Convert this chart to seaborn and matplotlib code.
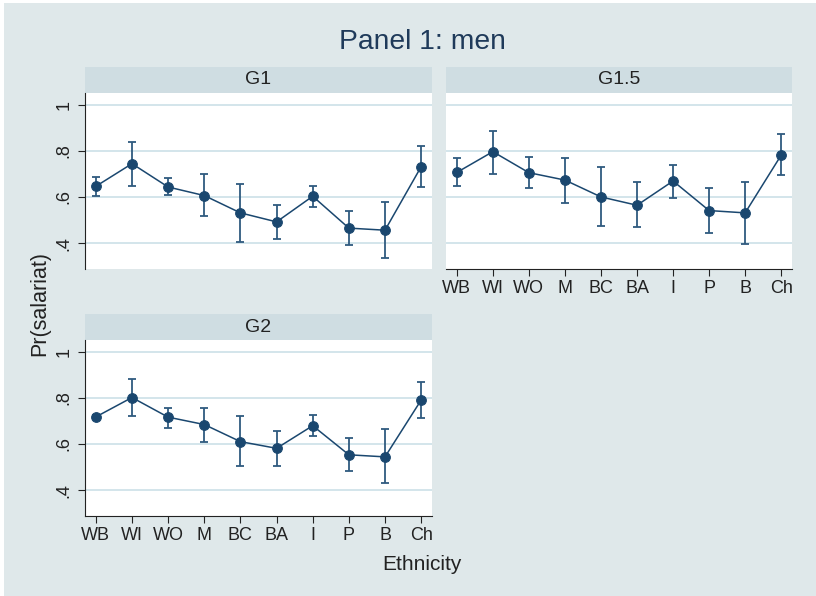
import numpy as np
import pandas as pd
import seaborn as sns
import matplotlib.pyplot as plt
from matplotlib.patches import Rectangle

# 数据：各族群的预测概率及置信区间
ethnicity = ['WB', 'WI', 'WO', 'M', 'BC', 'BA', 'I', 'P', 'B', 'Ch']

g1_p = [0.646, 0.744, 0.643, 0.606, 0.531, 0.492, 0.603, 0.465, 0.456, 0.731]
g1_lo = [0.604, 0.649, 0.607, 0.518, 0.404, 0.420, 0.558, 0.393, 0.335, 0.643]
g1_hi = [0.685, 0.839, 0.681, 0.698, 0.655, 0.565, 0.647, 0.540, 0.577, 0.819]

g15_p = [0.706, 0.796, 0.705, 0.673, 0.600, 0.564, 0.669, 0.541, 0.531, 0.781]
g15_lo = [0.646, 0.701, 0.640, 0.574, 0.473, 0.469, 0.596, 0.443, 0.396, 0.694]
g15_hi = [0.770, 0.886, 0.773, 0.768, 0.728, 0.666, 0.740, 0.639, 0.666, 0.872]

g2_p = [0.717, 0.801, 0.716, 0.684, 0.610, 0.581, 0.679, 0.553, 0.544, 0.790]
g2_lo = [0.710, 0.721, 0.671, 0.607, 0.503, 0.503, 0.636, 0.481, 0.429, 0.713]
g2_hi = [0.724, 0.879, 0.757, 0.757, 0.721, 0.656, 0.724, 0.626, 0.663, 0.867]

panels = ['G1', 'G1.5', 'G2']
y_ticks = [0.4, 0.6, 0.8, 1.0]
y_ticklabels = ['.4', '.6', '.8', '1']

bg = '#dfe8ea'
strip_bg = '#cfdde2'
grid_c = '#d3e5eb'
navy = '#1a476f'

plt.rcParams['font.family'] = ['Liberation Sans', 'DejaVu Sans']

W, H = 816, 596
fig = plt.figure(figsize=(W / 100, H / 100), dpi=100)
fig.patch.set_facecolor('white')
fig.add_artist(Rectangle((4 / W, 0), 1, 1 - 3 / H, transform=fig.transFigure,
                         facecolor=bg, edgecolor='none', zorder=-10))


def px_axes(x0, y0, x1, y1):
    # 像素坐标（左上为原点）转换为 figure 坐标
    return fig.add_axes([x0 / W, 1 - y1 / H, (x1 - x0) / W, (y1 - y0) / H])


data = {
    'G1': (g1_p, g1_lo, g1_hi),
    'G1.5': (g15_p, g15_lo, g15_hi),
    'G2': (g2_p, g2_lo, g2_hi),
}
layout = {
    'G1': (85, 67, 432, 93, 269),
    'G1.5': (446, 67, 792, 93, 269),
    'G2': (85, 314, 432, 340, 516),
}

for name in panels:
    x0, ys, x1, ya, yb = layout[name]
    p, lo, hi = data[name]
    df = pd.DataFrame({'eth': ethnicity, 'p': p, 'lo': lo, 'hi': hi})

    # 标题条
    sax = px_axes(x0, ys, x1, ya)
    sax.set_facecolor(strip_bg)
    sax.set_xticks([])
    sax.set_yticks([])
    for s in sax.spines.values():
        s.set_visible(False)
    sax.text(0.5, 0.5, name, ha='center', va='center', fontsize=14,
             color='#222222', transform=sax.transAxes)

    ax = px_axes(x0, ya, x1, yb)
    ax.set_facecolor('white')
    ax.errorbar(df['eth'], df['p'],
                yerr=[df['p'] - df['lo'], df['hi'] - df['p']],
                fmt='none', ecolor='#2f5a7f', elinewidth=1.3, capsize=3.2,
                capthick=1.3, zorder=3)
    sns.lineplot(data=df, x='eth', y='p', color=navy, marker='o',
                 markersize=7, markeredgecolor=navy, linewidth=1.1,
                 sort=False, ax=ax, zorder=4)

    ax.set_xlim(-0.3, 9.3)
    ax.set_ylim(0.288, 1.05)
    ax.set_yticks(y_ticks)
    ax.set_yticklabels(y_ticklabels, rotation=90, va='center')
    for yv in y_ticks:
        ax.axhline(yv, color=grid_c, linewidth=1.4, zorder=1)
    ax.set_xlabel('')
    ax.set_ylabel('')
    ax.tick_params(axis='both', labelsize=13, colors='#222222', length=5,
                   width=0.8, direction='out')
    ax.tick_params(axis='y', pad=4)
    ax.tick_params(axis='x', pad=3)

    for s in ['top', 'right']:
        ax.spines[s].set_visible(False)
    show_y = name in ('G1', 'G2')
    show_x = name in ('G1.5', 'G2')
    ax.spines['left'].set_visible(show_y)
    ax.spines['bottom'].set_visible(show_x)
    ax.spines['left'].set_color('#222222')
    ax.spines['bottom'].set_color('#222222')
    if not show_y:
        ax.tick_params(axis='y', left=False, labelleft=False)
    if not show_x:
        ax.tick_params(axis='x', bottom=False, labelbottom=False)

fig.text(422.5 / W, 1 - 42 / H, 'Panel 1: men', ha='center', va='center',
         fontsize=20.3, color='#1f3a5a')
fig.text(40 / W, 1 - 304 / H, 'Pr(salariat)', ha='center', va='center',
         rotation=90, fontsize=15.5, color='#222222')
fig.text(422 / W, 1 - 565 / H, 'Ethnicity', ha='center', va='center',
         fontsize=15, color='#222222')

fig.savefig('out.png', dpi=100)
